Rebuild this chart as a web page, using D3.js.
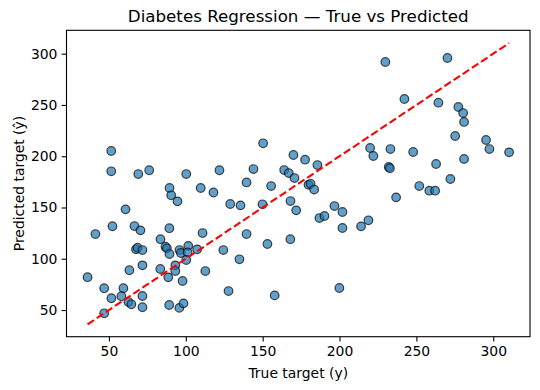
<!DOCTYPE html>
<html>
<head>
<meta charset="utf-8">
<script src="https://cdn.jsdelivr.net/npm/d3@7"></script>
<style>
  body { margin: 0; background: #fff; }
  text { font-family: "DejaVu Sans", sans-serif; fill: #000; }
</style>
</head>
<body>
<div id="chart"></div>
<script>
// true target values (x) and model predictions (y)
var trueVals = [51.5, 51.5, 69.1, 76.2, 100.3, 121.9, 150.3, 144.0, 139.5, 155.5,
    170.0, 164.0, 167.0, 170.7, 89.4, 109.7, 118.0, 90.5, 94.6, 128.9,
    135.6, 149.9, 168.1, 171.8, 60.8, 52.3, 66.6, 70.5, 41.2, 89.3,
    83.5, 86.8, 87.7, 89.4, 67.6, 68.6, 71.8, 95.9, 96.8, 101.6,
    101.2, 107.4, 110.9, 124.4, 139.5, 153.1, 168.0, 134.9, 100.3, 93.2,
    93.2, 83.4, 71.8, 63.3, 36.1, 88.6, 97.9, 112.7, 46.9, 59.4,
    58.1, 51.6, 62.7, 64.6, 71.8, 71.8, 46.9, 89.2, 95.8, 98.5,
    127.8, 157.8, 229.8, 270.2, 242.2, 264.3, 277.3, 280.4, 281.0, 275.2,
    295.3, 297.5, 310.3, 219.9, 222.0, 233.1, 247.9, 177.6, 185.6, 262.8,
    281.0, 232.0, 232.8, 179.8, 181.2, 183.5, 272.1, 251.9, 258.4, 262.2,
    236.8, 196.7, 201.9, 186.9, 190.2, 201.9, 214.0, 218.8, 199.9];

var predVals = [205.1, 185.3, 182.6, 186.3, 182.6, 186.3, 212.6, 187.5, 174.4, 170.9,
    201.2, 186.5, 183.6, 178.7, 169.0, 169.0, 164.6, 161.9, 156.0, 153.4,
    152.1, 153.1, 156.3, 147.2, 148.2, 131.7, 131.9, 127.7, 124.1, 129.8,
    119.1, 111.7, 110.2, 104.6, 109.2, 110.8, 108.5, 108.5, 105.6, 112.6,
    106.1, 109.2, 125.1, 108.5, 124.1, 114.4, 119.1, 99.5, 98.8, 93.6,
    88.0, 90.0, 93.6, 88.8, 82.0, 81.9, 78.3, 88.0, 71.3, 71.3,
    63.5, 61.5, 57.8, 55.6, 63.7, 52.7, 46.8, 54.9, 52.1, 56.5,
    68.5, 64.3, 291.9, 295.8, 255.8, 252.2, 248.0, 242.1, 233.4, 219.7,
    215.8, 207.0, 203.8, 208.0, 200.2, 207.0, 204.1, 196.6, 191.4, 192.4,
    197.3, 189.5, 188.3, 172.1, 173.1, 167.5, 177.8, 170.9, 166.4, 166.4,
    159.9, 151.4, 145.6, 139.7, 141.7, 130.0, 131.6, 137.5, 71.5];

var xTicks = [50, 100, 150, 200, 250, 300],
    yTicks = [50, 100, 150, 200, 250, 300];

// axis limits
var xLimits = [22.4, 323.9],
    yLimits = [24.0, 322.8];

var titleText = "Diabetes Regression \u2014 True vs Predicted",
    xLabel = "True target (y)",
    yLabel = "Predicted target (\u0177)";

var svgWidth = 540, svgHeight = 390;
var margin = { top: 30.3, right: 10, bottom: 53.3, left: 66.5 };
var width = svgWidth - margin.left - margin.right,
    height = svgHeight - margin.top - margin.bottom;

var points = d3.zip(trueVals, predVals);

// diagonal y = x spans the range of the true values
var lo = d3.min(trueVals), hi = d3.max(trueVals);

var x = d3.scaleLinear().domain(xLimits).range([0, width]);
var y = d3.scaleLinear().domain(yLimits).range([height, 0]);

var svg = d3.select("#chart").append("svg")
    .attr("width", svgWidth)
    .attr("height", svgHeight);

var chart = svg.append("g")
    .attr("transform", "translate(" + margin.left + "," + margin.top + ")");

var xAxis = chart.append("g")
    .attr("transform", "translate(0," + height + ")")
    .call(d3.axisBottom(x).tickValues(xTicks).tickSize(4.9).tickPadding(4.2));

var yAxis = chart.append("g")
    .call(d3.axisLeft(y).tickValues(yTicks).tickSize(4.9).tickPadding(4.2));

[xAxis, yAxis].forEach(function (ax) {
    ax.select(".domain").remove();
    ax.selectAll("line").attr("stroke", "#000").attr("stroke-width", 1.1);
    ax.selectAll("text")
        .style("font-size", "13.9px")
        .style("font-family", "DejaVu Sans, sans-serif")
        .attr("fill", "#000");
});

chart.selectAll(".dot")
    .data(points)
    .enter().append("circle")
    .attr("class", "dot")
    .attr("cx", function (d) { return x(d[0]); })
    .attr("cy", function (d) { return y(d[1]); })
    .attr("r", 4.3)
    .attr("fill", "#1f77b4")
    .attr("fill-opacity", 0.7)
    .attr("stroke", "#000")
    .attr("stroke-opacity", 0.7)
    .attr("stroke-width", 1.2);

chart.append("path")
    .datum([[lo, lo], [hi, hi]])
    .attr("d", d3.line()
        .x(function (d) { return x(d[0]); })
        .y(function (d) { return y(d[1]); }))
    .attr("fill", "none")
    .attr("stroke", "#ff0000")
    .attr("stroke-width", 2.08)
    .attr("stroke-dasharray", "7.7,3.3");

// axes frame
chart.append("rect")
    .attr("width", width)
    .attr("height", height)
    .attr("fill", "none")
    .attr("stroke", "#000")
    .attr("stroke-width", 1.1);

svg.append("text")
    .attr("x", margin.left + width / 2)
    .attr("y", 22.3)
    .attr("text-anchor", "middle")
    .style("font-size", "16.7px")
    .text(titleText);

svg.append("text")
    .attr("x", margin.left + width / 2)
    .attr("y", 377.5)
    .attr("text-anchor", "middle")
    .style("font-size", "13.9px")
    .text(xLabel);

svg.append("text")
    .attr("transform", "translate(23.5," + (margin.top + height / 2) + ") rotate(-90)")
    .attr("text-anchor", "middle")
    .style("font-size", "13.9px")
    .text(yLabel);
</script>
</body>
</html>
